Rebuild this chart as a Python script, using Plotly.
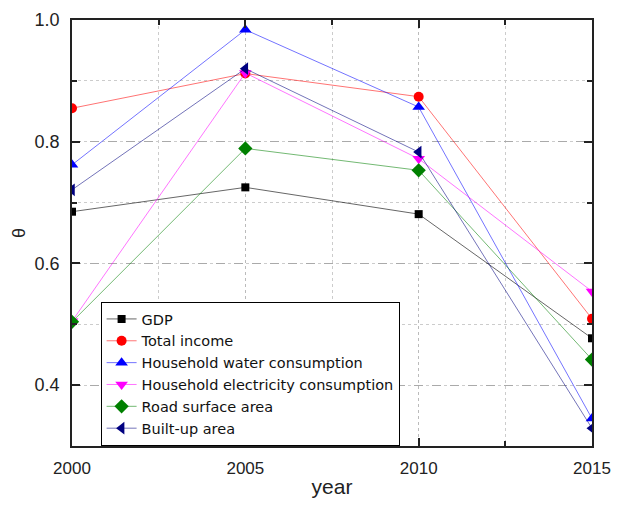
import plotly.graph_objects as go

years = [2000, 2005, 2010, 2015]
gdp = [0.685, 0.725, 0.681, 0.477]
total_income = [0.855, 0.912, 0.874, 0.509]
water = [0.762, 0.984, 0.857, 0.345]
electricity = [0.505, 0.913, 0.772, 0.554]
road = [0.504, 0.789, 0.753, 0.442]
built_up = [0.721, 0.920, 0.783, 0.329]

series = [
    ("GDP", gdp, "#000000", "rgba(0,0,0,0.6)", "square", 8),
    ("Total income", total_income, "#ff0000", "rgba(255,0,0,0.55)", "circle", 10),
    ("Household water consumption", water, "#0000ff", "rgba(0,0,255,0.55)", "triangle-up", 11),
    ("Household electricity consumption", electricity, "#ff00ff", "rgba(255,0,255,0.55)", "triangle-down", 11),
    ("Road surface area", road, "#008000", "rgba(0,128,0,0.55)", "diamond", 11),
    ("Built-up area", built_up, "#000080", "rgba(0,0,128,0.55)", "triangle-left", 11),
]

fig = go.Figure()
for name, vals, mc, lc, sym, sz in series:
    fig.add_trace(go.Scatter(
        x=years, y=vals, name=name, mode="lines+markers",
        line=dict(color=lc, width=1),
        marker=dict(color=mc, symbol=sym, size=sz, line=dict(width=0)),
        cliponaxis=True,
    ))

font_family = "Arial, Liberation Sans, sans-serif"
# page body has an 8px margin; size the figure so the page does not overflow
fig.update_layout(
    width=603, height=490,
    margin=dict(l=64, r=19, t=12, b=52, autoexpand=False),
    paper_bgcolor="white", plot_bgcolor="white",
    font=dict(family=font_family, color="#222222"),
    showlegend=True,
    legend=dict(
        x=0.055, y=0.0, xanchor="left", yanchor="bottom",
        bordercolor="#000000", borderwidth=1, bgcolor="white",
        font=dict(size=14.5, family="DejaVu Sans, sans-serif", color="#111111"),
        tracegroupgap=0, itemwidth=30,
    ),
)
fig.update_xaxes(
    range=[2000, 2015], tickvals=[2000, 2005, 2010, 2015],
    ticks="inside", ticklen=8, tickwidth=1.5, tickcolor="#222",
    showline=True, linecolor="#222", linewidth=1.5, mirror="ticks",
    showgrid=True, gridcolor="#bbbbbb", griddash="dot", gridwidth=1,
    zeroline=False, automargin=False, ticklabeloverflow="allow",
    tickfont=dict(size=17), ticklabelstandoff=6,
    minor=dict(dtick=2.5, tick0=2000, ticks="inside", ticklen=5, tickcolor="#222",
               showgrid=True, gridcolor="#cccccc", griddash="dot"),
    title=dict(text="year", font=dict(size=21), standoff=17),
)
fig.update_yaxes(
    range=[0.3, 1.0], tickvals=[0.4, 0.6, 0.8, 1.0], ticktext=["0.4", "0.6", "0.8", "1.0"],
    ticks="inside", ticklen=8, tickwidth=1.5, tickcolor="#222",
    showline=True, linecolor="#222", linewidth=1.5, mirror="ticks",
    showgrid=True, gridcolor="#aaaaaa", griddash="dash", gridwidth=1,
    zeroline=False, automargin=False, ticklabeloverflow="allow",
    tickfont=dict(size=18), ticklabelstandoff=7,
    minor=dict(dtick=0.1, tick0=0.3, ticks="inside", ticklen=5, tickcolor="#222",
               showgrid=True, gridcolor="#cccccc", griddash="dot"),
    title=dict(text="θ", font=dict(size=18), standoff=4),
)

fig.write_html("out.html")
